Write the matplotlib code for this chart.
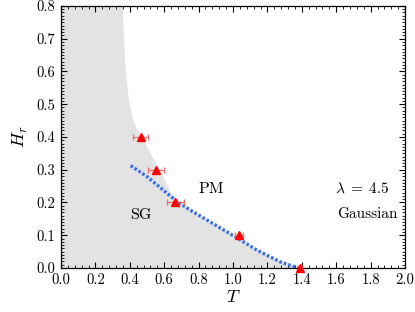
import numpy as np
import matplotlib
matplotlib.use("Agg")
import matplotlib.pyplot as plt
from matplotlib.ticker import MultipleLocator, FormatStrFormatter

plt.rcParams['font.family'] = ['cmr10', 'DejaVu Serif']
plt.rcParams['mathtext.fontset'] = 'cm'
plt.rcParams['axes.formatter.use_mathtext'] = True

# data points (T, H_r) with horizontal error bars
pts_T = [0.463, 0.552, 0.665, 1.033, 1.39]
pts_H = [0.40, 0.30, 0.20, 0.10, 0.0]
pts_Terr = [0.042, 0.048, 0.05, 0.024, 0.01]

# dotted fit line
line_T = [0.405, 0.5, 0.663, 0.75, 0.866, 1.012, 1.138, 1.273, 1.38]
line_H = [0.3125, 0.279, 0.208, 0.177, 0.141, 0.0957, 0.055, 0.019, 0.0]

# grey SG region boundary (upper curve, then follows fit line)
bound_T = [0.0, 0.359, 0.364, 0.372, 0.383, 0.395, 0.419, 0.44, 0.469,
           0.52, 0.576, 0.645, 0.75, 0.866, 1.012, 1.138, 1.273, 1.38, 0.0]
bound_H = [0.8, 0.8, 0.72, 0.635, 0.57, 0.513, 0.452, 0.425, 0.40,
           0.35, 0.299, 0.223, 0.177, 0.141, 0.0957, 0.055, 0.019, 0.0, 0.0]

fig = plt.figure(figsize=(4.15, 3.12), dpi=100)
ax = fig.add_axes([0.147, 0.141, 0.829, 0.840])

ax.fill(bound_T, bound_H, color='#e3e3e3', lw=0, zorder=1)
ax.plot(line_T, line_H, color='#3b6fe3', lw=2.4, ls=(0, (0.8, 0.6)), zorder=3)
ax.errorbar(pts_T, pts_H, xerr=pts_Terr, fmt='none', ecolor='#f26a6a',
            elinewidth=0.9, capsize=2.5, capthick=0.9, zorder=4, clip_on=False)
ax.plot(pts_T, pts_H, ls='none', marker='^', color='#ff0000', ms=5.5,
        zorder=5, clip_on=False)

ax.text(0.876, 0.241, 'PM', fontsize=11.5, ha='center', va='center')
ax.text(0.463, 0.162, 'SG', fontsize=11.5, ha='center', va='center')
ax.text(1.75, 0.243, r'$\lambda\;=\;4.5$', fontsize=11, ha='center', va='center')
ax.text(1.78, 0.165, 'Gaussian', fontsize=11, ha='center', va='center')

ax.set_xlim(0, 2.0)
ax.set_ylim(0, 0.8)
ax.xaxis.set_major_locator(MultipleLocator(0.2))
ax.xaxis.set_minor_locator(MultipleLocator(0.04))
ax.yaxis.set_major_locator(MultipleLocator(0.1))
ax.yaxis.set_minor_locator(MultipleLocator(0.01))
ax.xaxis.set_major_formatter(FormatStrFormatter('%.1f'))
ax.yaxis.set_major_formatter(FormatStrFormatter('%.1f'))
ax.tick_params(which='both', direction='in', top=True, right=True, labelsize=10.5)
ax.tick_params(which='major', length=4, width=0.8, pad=4)
ax.tick_params(which='minor', length=2, width=0.6)
for s in ax.spines.values():
    s.set_linewidth(0.9)

ax.set_xlabel(r'$T$', fontsize=13, labelpad=1)
ax.set_ylabel(r'$H_r$', fontsize=13, labelpad=5)

fig.savefig('out.png', dpi=100)
